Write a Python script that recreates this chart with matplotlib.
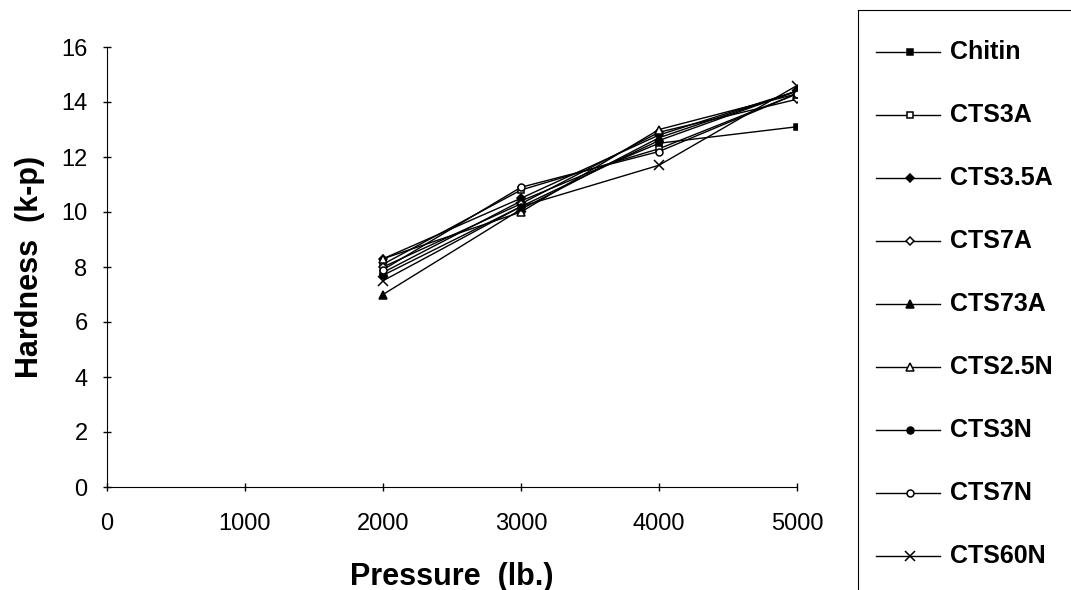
import matplotlib
matplotlib.use("Agg")
import matplotlib.pyplot as plt

plt.rcParams['font.family'] = ['Liberation Sans', 'DejaVu Sans']

pressure = [2000, 3000, 4000, 5000]
series_names = ['Chitin', 'CTS3A', 'CTS3.5A', 'CTS7A', 'CTS73A',
                'CTS2.5N', 'CTS3N', 'CTS7N', 'CTS60N']
chitin = [7.8, 10.4, 12.5, 13.1]
cts3a = [8.1, 10.8, 12.3, 14.3]
cts35a = [8.3, 10.5, 12.8, 14.4]
cts7a = [8.0, 10.3, 12.9, 14.1]
cts73a = [7.0, 10.1, 12.7, 14.4]
cts25n = [8.3, 10.0, 13.0, 14.3]
cts3n = [7.7, 10.2, 12.6, 14.4]
cts7n = [7.9, 10.9, 12.2, 14.3]
cts60n = [7.5, 10.2, 11.7, 14.6]
hardness = [chitin, cts3a, cts35a, cts7a, cts73a, cts25n, cts3n, cts7n, cts60n]

# marker, filled?, size
styles = [('s', True, 5), ('s', False, 5), ('D', True, 4), ('D', False, 4.5),
          ('^', True, 6), ('^', False, 6), ('o', True, 5), ('o', False, 5),
          ('x', True, 7)]

fig = plt.figure(figsize=(10.71, 5.90), dpi=100)
ax = fig.add_axes([107/1071, 1 - 487/590, (797 - 107)/1071, (487 - 47)/590])

for vals, (m, filled, ms) in zip(hardness, styles):
    face = 'black' if filled else 'white'
    ax.plot(pressure, vals, color='black', lw=1.0, marker=m, ms=ms,
            mfc=face, mec='black', mew=1.1)

ax.set_xlim(0, 5000)
ax.set_ylim(0, 16)
ax.set_xticks(range(0, 5001, 1000))
ax.set_yticks(range(0, 17, 2))
ax.spines['top'].set_visible(False)
ax.spines['right'].set_visible(False)
ax.tick_params(labelsize=17, length=6, width=1, direction='inout')
ax.tick_params(axis='x', pad=16)
ax.tick_params(axis='y', pad=11)
ax.set_xlabel('Pressure  (lb.)', fontsize=22, fontweight='bold')
ax.set_ylabel('Hardness  (k-p)', fontsize=22, fontweight='bold')
ax.xaxis.set_label_coords(0.5, -0.170)
ax.yaxis.set_label_coords(-0.09, 0.5)

# legend panel running off the right and bottom edges
lax = fig.add_axes([858/1071, 0, (1071 - 858)/1071, 1 - 10/590])
lax.set_xlim(0, 213)
lax.set_ylim(580, 0)
lax.set_xticks([])
lax.set_yticks([])
lax.spines['right'].set_visible(False)
lax.spines['bottom'].set_visible(False)
for i, (name, (m, filled, ms)) in enumerate(zip(series_names, styles)):
    y = 42 + i * 63
    face = 'black' if filled else 'white'
    lax.plot([18, 52, 82], [y, y, y], color='black', lw=1.0, marker=m,
             ms=ms, mfc=face, mec='black', mew=1.1, markevery=[1])
    lax.text(92, y, name, fontsize=18, fontweight='bold', va='center', ha='left')

fig.savefig('out.png', dpi=100)
